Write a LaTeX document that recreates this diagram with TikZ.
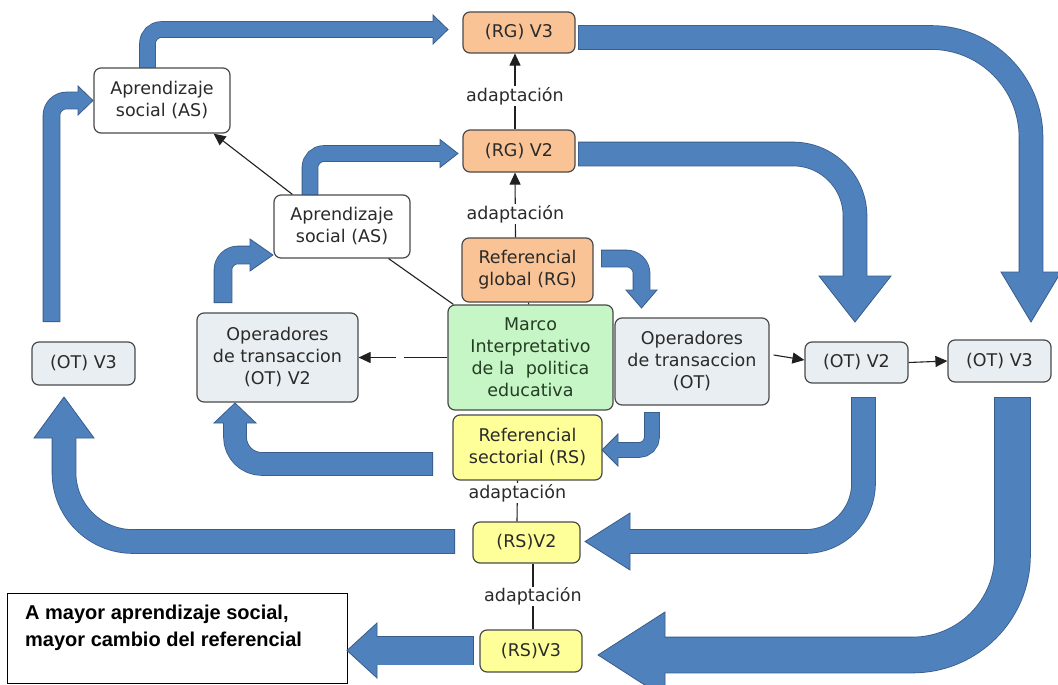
\documentclass[tikz,border=0pt]{standalone}
\usepackage{fontspec}
\setmainfont{DejaVu Sans}
\newfontfamily\notefont{Liberation Sans}
\usetikzlibrary{arrows.meta,calc}

\definecolor{arrowfill}{HTML}{4F81BD}
\definecolor{arrowline}{HTML}{385D8A}
\definecolor{boxline}{HTML}{4A4A4A}
\definecolor{textdark}{HTML}{2A2A2A}
\definecolor{marcotext}{HTML}{243E24}
\definecolor{orangefill}{HTML}{FAC396}
\definecolor{greenfill}{HTML}{C6F5C6}
\definecolor{yellowfill}{HTML}{FFFF99}
\definecolor{grayfill}{HTML}{E8EEF1}
\definecolor{linkcol}{HTML}{202020}

% thick block arrow: shaft width, corner radius, shaft path, head triangle
\newcommand\blockarrow[4]{%
  \draw[arrowline, line width=#1pt+1.6pt, rounded corners=#2pt] #3;
  \filldraw[fill=arrowfill, draw=arrowline, line width=0.8pt, line join=miter] #4 -- cycle;
  \draw[arrowfill, line width=#1pt, rounded corners=#2pt, shorten <=0.8pt] #3;
}

\tikzset{
  box/.style={draw=boxline, line width=1.2pt, rounded corners=7pt, align=center,
    inner sep=0pt, text=textdark, font=\fontsize{17.5}{22}\selectfont},
  orangebox/.style={box, fill=orangefill},
  greenbox/.style={box, fill=greenfill, text=marcotext},
  yellowbox/.style={box, fill=yellowfill},
  graybox/.style={box, fill=grayfill},
  whitebox/.style={box, fill=white},
  lab/.style={fill=white, inner sep=1pt, text=textdark, font=\fontsize{17.5}{22}\selectfont},
  link/.style={draw=linkcol, line width=1.1pt},
  tip/.style={-{Triangle[length=12pt,width=11pt]}},
  notebox/.style={draw=black, line width=1pt, minimum width=340pt, minimum height=90pt, inner sep=0pt},
  notetext/.style={align=left, inner sep=0pt, text=black, font=\notefont\bfseries\fontsize{20}{27}\selectfont}
}

\begin{document}
\begin{tikzpicture}[x=1pt, y=-1pt]
\useasboundingbox (0,0) rectangle (1058,685);
\fill[white] (0,0) rectangle (1058,685);
\clip (0,0) rectangle (1058,685);

% global referential and its versions
\node[orangebox, minimum width=112pt, minimum height=41pt] (rg3) at (519,32.5) {(RG) V3};
\node[orangebox, minimum width=112pt, minimum height=42pt] (rg2) at (519,151) {(RG) V2};
\node[orangebox, minimum width=131pt, minimum height=64pt] (rgr) at (527.5,270) {Referencial\\global (RG)};

% interpretive frame
\node[greenbox, minimum width=165pt, minimum height=105pt] (marco) at (530.5,357.5)
  {Marco\\Interpretativo\\de la\ \ politica\\educativa};

% sectoral referential and its versions
\node[yellowbox, minimum width=149pt, minimum height=65pt] (rs) at (527.5,447.5) {Referencial\\sectorial (RS)};
\node[yellowbox, minimum width=107pt, minimum height=41pt] (rsv2) at (526.5,542.5) {(RS)V2};
\node[yellowbox, minimum width=102pt, minimum height=42pt] (rsv3) at (531,651) {(RS)V3};

% transaction operators
\node[graybox, minimum width=154pt, minimum height=87pt] (ot) at (692,361.5) {Operadores\\de transaccion\\(OT)};
\node[graybox, minimum width=103pt, minimum height=41pt] (otv2r) at (856.5,362.5) {(OT) V2};
\node[graybox, minimum width=103pt, minimum height=42pt] (otv3r) at (999.5,361) {(OT) V3};
\node[graybox, minimum width=161pt, minimum height=89pt] (otv2l) at (277.5,357.5) {Operadores\\de transaccion\\(OT) V2};
\node[graybox, minimum width=103pt, minimum height=43pt] (otv3l) at (83.5,363.5) {(OT) V3};

% social learning
\node[whitebox, minimum width=136pt, minimum height=65pt] (asU) at (162,100.5) {Aprendizaje\\social (AS)};
\node[whitebox, minimum width=136pt, minimum height=63pt] (asM) at (342,226.5) {Aprendizaje\\social (AS)};

% conclusion box
\node[notebox] (note) at (177,638) {};
\node[notetext, anchor=north west] (notet) at (25,605) {A mayor aprendizaje social,\\mayor cambio del referencial};

% thin connectors
\draw[link, tip] ([xshift=-4pt]rg2.north) -- node[lab, pos=0.44] {adaptación} ([xshift=-4pt]rg3.south);
\draw[link, tip] ([xshift=-12pt]rgr.north) -- node[lab, pos=0.36] {adaptación} ([xshift=-4pt]rg2.south);
\draw[link] (rgr) -- (marco);
\draw[link] ([xshift=-10pt]rs.south) -- node[lab, pos=0.31] {adaptación} ([xshift=-9.5pt]rsv2.north);
\draw[link] ([xshift=6.5pt]rsv2.south) -- node[lab, pos=0.5] {adaptación} ([xshift=2pt]rsv3.north);
\draw[link, tip] ([xshift=19pt]asM.north west) -- ([xshift=-17pt]asU.south east);
\draw[link] ([xshift=-22pt]asM.south east) -- ([xshift=6pt]marco.north west);
% broken connector from the frame to the left operators
\coordinate (gapR) at ($(marco.west)+(-43,0)$);
\coordinate (gapL) at ($(marco.west)+(-51,0)$);
\draw[link] (marco.west) -- (gapR);
\draw[link, tip] (gapL) -- (otv2l.east);
\draw[link, tip] ($(ot.east)+(4,-6.5)$) -- ($(otv2r.west)+(0,-2.5)$);
\draw[link, tip] (otv2r.east) -- (otv3r.west);

% thick block arrows
\blockarrow{15}{14}{(147.5,68) -- (147.5,29.5) -- (436,29.5)}{(433,15) -- (448,29.5) -- (433,44)}
\blockarrow{15}{14}{(310,195) -- (310,153.5) -- (443,153.5)}{(440,139.5) -- (458,153.5) -- (440,167.5)}
\blockarrow{16}{15}{(51.5,322) -- (51.5,100.5) -- (81,100.5)}{(78,86) -- (93,100.5) -- (78,115)}
\blockarrow{17}{15}{(223,303) -- (223,255) -- (253,255)}{(250,239) -- (273,255) -- (250,271)}
\blockarrow{16}{15}{(601,258.5) -- (641.5,258.5) -- (641.5,293)}{(626,290) -- (641.5,308) -- (657,290)}
\blockarrow{14}{13}{(652,412) -- (652,450) -- (615,450)}{(618,434) -- (602,450) -- (618,466)}
\blockarrow{23}{62}{(578,154) -- (855,154) -- (855,280)}{(819,276) -- (855,322) -- (891,276)}
\blockarrow{23}{100}{(578,37.5) -- (1031,37.5) -- (1031,276)}{(1001,272) -- (1031,322) -- (1061,272)}
\blockarrow{23}{58}{(863.5,397) -- (863.5,541.5) -- (626,541.5)}{(630,513) -- (585,541.5) -- (630,570)}
\blockarrow{35}{100}{(1012.5,397) -- (1012.5,655) -- (661,655)}{(665,612) -- (598,655) -- (665,698)}
\blockarrow{22}{27}{(433,464) -- (235,464) -- (235,420)}{(214,423) -- (235,403) -- (256,423)}
\blockarrow{23}{69}{(455,541.5) -- (64,541.5) -- (64,434)}{(34,438) -- (64,397) -- (94,438)}
\blockarrow{28}{0}{(474,650.5) -- (373,650.5)}{(377,623) -- (347,650.5) -- (377,678)}
\end{tikzpicture}
\end{document}
